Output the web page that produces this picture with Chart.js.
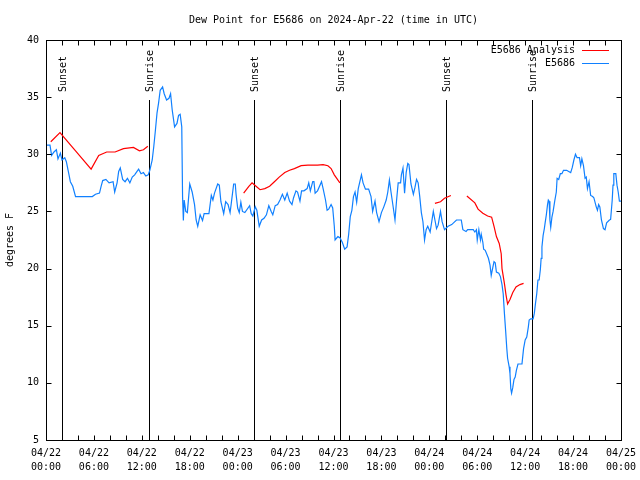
<!DOCTYPE html>
<html>
<head>
<meta charset="utf-8">
<script src="https://cdn.jsdelivr.net/npm/chart.js@4.4.1/dist/chart.umd.min.js"></script>
<style>
  body { margin: 0; background: #fff; }
</style>
</head>
<body>
<canvas id="chart" width="640" height="480"></canvas>
<script>
// hours since 2024-04-22 00:00 UTC
const obsHours = [0.0, 0.5, 0.7, 1.0, 1.3, 1.5, 1.8, 2.0, 2.35, 2.55, 2.85, 3.05, 3.35, 3.7, 4.5, 5.3, 5.8, 6.2, 6.7, 6.9,
  7.1, 7.5, 7.9, 8.4, 8.6, 8.9, 9.1, 9.3, 9.6, 9.9, 10.2, 10.5, 10.8, 11.1, 11.4, 11.6, 11.9, 12.2, 12.5, 12.8,
  13.0, 13.3, 13.5, 13.7, 13.9, 14.1, 14.3, 14.6, 14.8, 15.1, 15.4, 15.6, 15.8, 16.1, 16.4, 16.6, 16.8, 17.0, 17.1, 17.2,
  17.3, 17.5, 17.7, 18.0, 18.3, 18.6, 18.8, 19.0, 19.3, 19.6, 19.8, 20.4, 20.7, 20.9, 21.1, 21.5, 21.7, 21.9, 22.25, 22.5,
  22.8, 23.05, 23.2, 23.5, 23.7, 23.8, 24.0, 24.2, 24.4, 24.6, 24.9, 25.5, 25.7, 25.9, 26.2, 26.4, 26.7, 27.0, 27.3, 27.6,
  27.9, 28.2, 28.4, 28.7, 29.0, 29.3, 29.6, 29.9, 30.2, 30.5, 30.8, 31.0, 31.3, 31.5, 31.8, 32.0, 32.3, 32.7, 32.9, 33.1,
  33.4, 33.55, 33.7, 34.0, 34.5, 34.7, 35.0, 35.2, 35.4, 35.7, 35.9, 36.1, 36.2, 36.55, 36.8, 37.1, 37.4, 37.7, 37.9, 38.1,
  38.3, 38.5, 38.7, 38.9, 39.1, 39.5, 39.7, 40.0, 40.4, 40.7, 40.9, 41.2, 41.4, 41.7, 42.0, 42.3, 42.6, 42.8, 43.0, 43.2,
  43.45, 43.7, 43.9, 44.1, 44.4, 44.5, 44.7, 44.9, 45.1, 45.3, 45.45, 45.7, 46.0, 46.2, 46.4, 46.6, 46.8, 47.0, 47.2, 47.4,
  47.6, 47.8, 48.1, 48.5, 48.7, 48.9, 49.1, 49.4, 49.6, 49.9, 50.35, 50.8, 51.4, 52.0, 52.2, 52.6, 52.8, 53.5, 53.7, 53.9,
  54.0, 54.2, 54.4, 54.5, 54.7, 54.8, 55.0, 55.4, 55.6, 55.75, 55.95, 56.1, 56.25, 56.4, 56.7, 56.9, 57.1, 57.25, 57.4, 57.55,
  57.7, 57.8, 58.0, 58.1, 58.2, 58.3, 58.45, 58.6, 58.75, 58.9, 59.1, 59.6, 59.8, 60.0, 60.2, 60.4, 60.5, 60.7, 61.0, 61.15,
  61.3, 61.45, 61.6, 61.75, 61.9, 62.0, 62.1, 62.25, 62.4, 62.5, 62.65, 62.8, 62.9, 63.0, 63.1, 63.2, 63.35, 63.5, 63.7, 63.9,
  64.0, 64.2, 64.4, 64.6, 64.8, 65.2, 65.45, 65.7, 65.9, 66.1, 66.3, 66.5, 66.8, 66.95, 67.1, 67.3, 67.5, 67.65, 67.8, 68.0,
  68.2, 68.45, 68.6, 68.9, 69.05, 69.2, 69.35, 69.55, 69.8, 70.0, 70.2, 70.55, 70.7, 70.9, 71.0, 71.1, 71.35, 71.5, 71.65, 71.8,
  72.0];
const obsDew = [30.8, 30.8, 29.9, 30.2, 30.4, 29.6, 30.1, 29.5, 29.7, 29.35, 28.3, 27.6, 27.2, 26.3, 26.3, 26.3, 26.3, 26.5, 26.6, 27.2,
  27.7, 27.8, 27.5, 27.6, 26.7, 27.5, 28.5, 28.8, 27.8, 27.6, 27.9, 27.5, 28.0, 28.2, 28.5, 28.7, 28.3, 28.4, 28.1, 28.2,
  28.6, 29.5, 30.7, 32.1, 33.6, 34.5, 35.6, 35.9, 35.3, 34.75, 34.9, 35.3, 33.9, 32.4, 32.7, 33.4, 33.5, 32.4, 26.3, 24.2,
  26.0, 25.0, 24.9, 27.4, 26.7, 25.6, 24.25, 23.7, 24.7, 24.2, 24.8, 24.8, 26.4, 26.0, 26.6, 27.4, 27.3, 25.85, 24.8, 25.85,
  25.6, 24.9, 25.7, 27.4, 27.4, 26.5, 25.3, 24.9, 25.8, 25.0, 24.9, 25.5, 24.8, 24.6, 25.4, 25.1, 23.7, 24.25, 24.4, 24.7,
  25.5, 25.0, 24.7, 25.5, 25.6, 26.0, 26.5, 26.0, 26.6, 25.9, 25.6, 26.2, 26.8, 26.7, 25.9, 26.8, 26.8, 27.0, 27.5, 26.8,
  27.6, 27.6, 26.6, 26.8, 27.6, 27.0, 26.0, 25.1, 25.2, 25.6, 25.3, 23.7, 22.5, 22.8, 22.7, 22.3, 21.7, 21.9, 23.0, 24.55,
  25.1, 26.3, 26.7, 25.8, 27.0, 28.2, 27.5, 26.95, 26.95, 26.3, 25.0, 25.9, 24.9, 24.1, 24.9, 25.4, 26.0, 26.7, 27.75, 26.7,
  25.5, 24.25, 26.0, 27.5, 27.5, 28.2, 28.8, 26.6, 28.4, 29.2, 29.1, 27.4, 26.5, 27.1, 27.8, 27.5, 26.3, 24.9, 24.1, 22.5,
  23.4, 23.7, 23.2, 25.0, 24.25, 23.5, 23.8, 25.0, 24.1, 23.4, 23.7, 23.85, 24.25, 24.25, 23.4, 23.25, 23.4, 23.4, 23.2, 23.4,
  22.5, 23.4, 22.5, 23.0, 22.3, 21.7, 21.6, 20.9, 20.3, 19.4, 20.1, 20.6, 20.5, 19.7, 19.6, 19.3, 18.6, 17.8, 16.1, 14.6,
  13.0, 12.15, 11.4, 10.8, 9.5, 9.1, 9.6, 10.3, 10.5, 11.1, 11.65, 11.65, 13.0, 13.75, 14.0, 14.9, 15.5, 15.6, 15.6, 16.1,
  17.0, 17.8, 19.0, 19.0, 19.9, 20.9, 21.9, 22.9, 23.5, 24.0, 24.7, 25.6, 26.0, 25.9, 24.25, 23.6, 24.5, 25.0, 25.9, 26.7,
  27.9, 27.8, 28.3, 28.3, 28.6, 28.6, 28.5, 28.4, 28.85, 29.5, 30.0, 29.7, 29.7, 29.0, 29.6, 29.0, 27.9, 28.0, 27.0, 27.6,
  26.4, 26.3, 26.2, 25.4, 25.1, 25.6, 25.4, 24.25, 23.5, 23.4, 24.0, 24.25, 24.3, 26.0, 27.3, 28.3, 28.3, 27.3, 26.7, 25.9,
  25.9];

// analysis curve, null = gap
const anaHours = [0.6, 1.75, 3.7, 5.65, 6.6, 7.6, 8.65, 9.7, 10.95, 11.7, 12.2, 12.75,
  18.0,
  24.75, 25.4, 25.8, 26.3, 26.8, 27.4, 28.0, 28.6, 29.2, 29.9, 30.5, 31.1, 31.95, 32.8, 34.0, 34.7, 35.3, 35.7, 36.1, 36.8,
  42.0,
  48.7, 49.4, 49.9, 50.7,
  51.7,
  52.7, 53.7, 54.1, 54.7, 55.3, 55.8, 56.1, 56.4, 56.75, 57.0, 57.1, 57.4, 57.6, 57.8, 58.1, 58.45, 58.85, 59.35, 59.8];
const anaDew = [31.1, 31.9, 30.3, 28.7, 29.9, 30.2, 30.2, 30.5, 30.6, 30.3, 30.4, 30.7,
  null,
  26.6, 27.2, 27.5, 27.2, 26.9, 27.0, 27.2, 27.6, 28.0, 28.4, 28.6, 28.75, 29.0, 29.05, 29.05, 29.1, 29.0, 28.75, 28.2, 27.5,
  null,
  25.7, 25.85, 26.15, 26.4,
  null,
  26.35, 25.75, 25.2, 24.85, 24.6, 24.5, 23.7, 22.8, 22.2, 21.3, 20.0, 18.7, 17.7, 16.9, 17.3, 17.9, 18.4, 18.6, 18.7];

const sunHours = [1.95, 12.85, 26.0, 36.8, 50.1, 60.9];
const sunNames = ['Sunset', 'Sunrise', 'Sunset', 'Sunrise', 'Sunset', 'Sunrise'];

const tickHours = [0, 6, 12, 18, 24, 30, 36, 42, 48, 54, 60, 66, 72];
const tickDays = ['04/22', '04/22', '04/22', '04/22', '04/23', '04/23', '04/23', '04/23', '04/24', '04/24', '04/24', '04/24', '04/25'];
const tickTimes = ['00:00', '06:00', '12:00', '18:00', '00:00', '06:00', '12:00', '18:00', '00:00', '06:00', '12:00', '18:00', '00:00'];

const chartTitle = 'Dew Point for E5686 on 2024-Apr-22 (time in UTC)';

const mono = 'DejaVu Sans Mono';
Chart.defaults.font.family = mono;
Chart.defaults.font.size = 10;
Chart.defaults.color = '#000';

function pairs(xs, ys) {
  return xs.map((x, i) => ({ x: x, y: ys[i] }));
}

// border, inward tics, sunrise/sunset markers, legend, title over the plot
const gnuFrame = {
  id: 'gnuFrame',
  beforeDatasetsDraw(chart) {
    const ctx = chart.ctx;
    const a = chart.chartArea;
    const xs = chart.scales.x;
    const lineTop = a.bottom - 0.85 * (a.bottom - a.top);
    const textStart = a.bottom - 0.87 * (a.bottom - a.top);
    ctx.save();
    ctx.strokeStyle = '#000';
    ctx.fillStyle = '#000';
    ctx.lineWidth = 1;
    ctx.font = '10px ' + mono;
    sunHours.forEach((h, i) => {
      const px = Math.round(xs.getPixelForValue(h)) + 0.5;
      ctx.beginPath();
      ctx.moveTo(px, lineTop);
      ctx.lineTo(px, a.bottom);
      ctx.stroke();
      ctx.save();
      ctx.translate(px + 1, textStart);
      ctx.rotate(-Math.PI / 2);
      ctx.textAlign = 'left';
      ctx.textBaseline = 'middle';
      ctx.fillText(sunNames[i], 0, 0);
      ctx.restore();
    });
    ctx.restore();
  },
  afterDatasetsDraw(chart) {
    const ctx = chart.ctx;
    const a = chart.chartArea;
    const xs = chart.scales.x;
    const ys = chart.scales.y;
    const L = Math.round(a.left) + 0.5, R = Math.round(a.right) + 0.5;
    const T = Math.round(a.top) + 0.5, B = Math.round(a.bottom) + 0.5;
    const tic = 5;
    ctx.save();
    ctx.strokeStyle = '#000';
    ctx.lineWidth = 1;
    ctx.beginPath();
    xs.ticks.forEach(t => {
      const px = Math.round(xs.getPixelForValue(t.value)) + 0.5;
      ctx.moveTo(px, B); ctx.lineTo(px, B - tic);
      ctx.moveTo(px, T); ctx.lineTo(px, T + tic);
    });
    ys.ticks.forEach(t => {
      const py = Math.round(ys.getPixelForValue(t.value)) + 0.5;
      ctx.moveTo(L, py); ctx.lineTo(L + tic, py);
      ctx.moveTo(R, py); ctx.lineTo(R - tic, py);
    });
    ctx.stroke();
    ctx.strokeRect(L, T, R - L, B - T);

    ctx.font = '10px ' + mono;
    ctx.fillStyle = '#000';
    ctx.textAlign = 'center';
    ctx.textBaseline = 'middle';
    ctx.fillText(chartTitle, (a.left + a.right) / 2, 20);

    // legend, top right inside the plot
    ctx.textAlign = 'right';
    chart.data.datasets.forEach((ds, i) => {
      const y = Math.round(a.top + 10 + i * 12.5) + 0.5;
      ctx.fillStyle = '#000';
      ctx.fillText(ds.label, a.right - 46, y);
      ctx.strokeStyle = ds.borderColor;
      ctx.beginPath();
      ctx.moveTo(a.right - 39, y);
      ctx.lineTo(a.right - 12, y);
      ctx.stroke();
    });
    ctx.restore();
  }
};

new Chart(document.querySelector('#chart'), {
  type: 'line',
  data: {
    datasets: [
      {
        label: 'E5686 Analysis',
        data: pairs(anaHours, anaDew),
        borderColor: '#ff0000',
        borderWidth: 1.2,
        pointRadius: 0,
        spanGaps: false,
        tension: 0
      },
      {
        label: 'E5686',
        data: pairs(obsHours, obsDew),
        borderColor: '#1080ff',
        borderWidth: 1.2,
        pointRadius: 0,
        tension: 0
      }
    ]
  },
  options: {
    responsive: false,
    animation: false,
    events: [],
    layout: { padding: { left: 0, right: 19, top: 40, bottom: 0 } },
    plugins: {
      legend: { display: false },
      tooltip: { enabled: false },
      title: { display: false }
    },
    scales: {
      x: {
        type: 'linear',
        min: 0,
        max: 72,
        grid: { display: false, drawTicks: false, tickLength: 0 },
        border: { display: false },
        ticks: {
          stepSize: 2,
          autoSkip: false,
          maxRotation: 0,
          padding: 6,
          font: { family: mono, size: 10, lineHeight: 1.4 },
          callback: v => {
            const i = tickHours.indexOf(v);
            return i < 0 ? '' : [tickDays[i], tickTimes[i]];
          }
        },
        afterFit: s => { s.height = 40; s.paddingLeft = 0; s.paddingRight = 0; }
      },
      y: {
        min: 5,
        max: 40,
        grid: { display: false, drawTicks: false, tickLength: 0 },
        border: { display: false },
        ticks: { stepSize: 5, padding: 7, font: { family: mono, size: 10 } },
        title: {
          display: true,
          text: 'degrees F',
          font: { family: mono, size: 10 },
          padding: { top: 4, bottom: 4 }
        },
        afterFit: s => { s.width = 46; s.paddingTop = 0; s.paddingBottom = 0; }
      }
    }
  },
  plugins: [gnuFrame]
});
</script>
</body>
</html>
